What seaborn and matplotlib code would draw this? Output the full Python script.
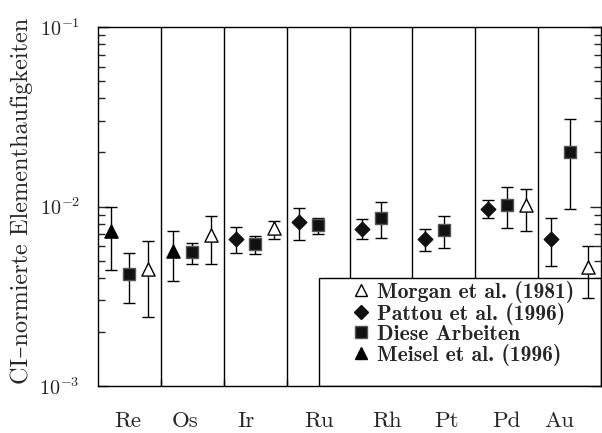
import numpy as np
import pandas as pd
import matplotlib
matplotlib.use('Agg')
import matplotlib.pyplot as plt
import seaborn as sns
from matplotlib.ticker import FixedLocator, NullFormatter, LogLocator, FuncFormatter
from matplotlib.patches import Rectangle
from matplotlib.lines import Line2D

# ---------------- data ----------------
elements = ['Re', 'Os', 'Ir', 'Ru', 'Rh', 'Pt', 'Pd', 'Au']
nan = np.nan

meisel_val = [0.0073, 0.00567, nan, nan, nan, nan, nan, nan]
meisel_lo = [0.00443, 0.00383, nan, nan, nan, nan, nan, nan]
meisel_hi = [0.0099, 0.00728, nan, nan, nan, nan, nan, nan]

pattou_val = [nan, nan, 0.00656, 0.00816, 0.00752, 0.00659, 0.00973, 0.00662]
pattou_lo = [nan, nan, 0.00548, 0.0065, 0.00659, 0.00565, 0.00867, 0.00466]
pattou_hi = [nan, nan, 0.00766, 0.00977, 0.00849, 0.00746, 0.01083, 0.00859]

diese_val = [0.00419, 0.00557, 0.00616, 0.00788, 0.00863, 0.00737, 0.01023, 0.0201]
diese_lo = [0.00289, 0.00476, 0.00542, 0.0070, 0.00665, 0.00585, 0.00759, 0.00968]
diese_hi = [0.00548, 0.0063, 0.00682, 0.00867, 0.01055, 0.00889, 0.01289, 0.0307]

morgan_val = [0.00449, 0.00697, 0.00762, nan, nan, nan, 0.01016, 0.00462]
morgan_lo = [0.00242, 0.00476, 0.00656, nan, nan, nan, 0.00728, 0.00308]
morgan_hi = [0.0064, 0.00885, 0.00826, nan, nan, nan, 0.01256, 0.00603]

labels = ['Morgan et al. (1981)', 'Pattou et al. (1996)', 'Diese Arbeiten', 'Meisel et al. (1996)']

# ---------------- style ----------------
sns.set_style('ticks')
plt.rcParams['font.family'] = ['cmr10', 'DejaVu Serif']
plt.rcParams['mathtext.fontset'] = 'cm'
plt.rcParams['axes.formatter.use_mathtext'] = True

fig = plt.figure(figsize=(6.02, 4.33), dpi=100)
ax = fig.add_axes([98 / 602, 1 - 386 / 433, 503 / 602, 359 / 433])
ax.set_yscale('log')
ax.set_xlim(0, len(elements))
ax.set_ylim(1e-3, 1e-1)

# group separators
for i in range(1, len(elements)):
    ax.axvline(i, color='black', lw=1.0, zorder=1)

# legend box
ax.add_patch(Rectangle((0.439, 0.0), 0.561, 0.301, transform=ax.transAxes,
                       facecolor='white', edgecolor='black', lw=1.0, zorder=2))

slot = 0.3
series = [
    (meisel_val, meisel_lo, meisel_hi, -1, dict(marker='^', color='black', edgecolor='black', s=90)),
    (pattou_val, pattou_lo, pattou_hi, -1, dict(marker='D', color='#111111', edgecolor='#111111', s=55)),
    (diese_val, diese_lo, diese_hi, 0, dict(marker='s', color='#111111', edgecolor='#555555', s=80)),
    (morgan_val, morgan_lo, morgan_hi, 1, dict(marker='^', color='white', edgecolor='black', s=90)),
]
for val, lo, hi, pos, st in series:
    df = pd.DataFrame({'el': elements, 'v': val, 'lo': lo, 'hi': hi})
    df['x'] = np.arange(len(elements)) + 0.5 + pos * slot
    df = df.dropna()
    ax.errorbar(df['x'], df['v'], yerr=[df['v'] - df['lo'], df['hi'] - df['v']],
                fmt='none', ecolor='black', elinewidth=1.0, capsize=4.5, capthick=1.0, zorder=3)
    sns.scatterplot(data=df, x='x', y='v', ax=ax, linewidth=1.0, zorder=4, legend=False, **st)

# ticks
label_shift = [-0.03, -0.12, -0.15, 0.02, 0.1, 0.04, -0.01, -0.17]
ax.xaxis.set_major_locator(FixedLocator([i + 0.5 + d for i, d in enumerate(label_shift)]))
ax.set_xticklabels(elements, fontsize=16.5)
ax.xaxis.set_minor_locator(FixedLocator(list(range(1, len(elements)))))
ax.tick_params(axis='x', which='major', length=0, pad=18)
ax.tick_params(axis='x', which='minor', direction='in', length=5, width=1, top=False, bottom=True)

ax.yaxis.set_major_locator(LogLocator(base=10))
ax.yaxis.set_minor_locator(LogLocator(base=10, subs=np.arange(2, 10)))
ax.yaxis.set_minor_formatter(NullFormatter())
ax.yaxis.set_major_formatter(FuncFormatter(lambda v, p: r'$10^{%d}$' % round(np.log10(v))))
ax.tick_params(axis='y', which='major', direction='in', length=8, width=1, left=True, right=True,
               labelsize=14.5, pad=13)
ax.tick_params(axis='y', which='minor', direction='in', length=5, width=1, left=True, right=True)

for sp in ax.spines.values():
    sp.set_linewidth(1.0)
    sp.set_color('black')

ax.set_xlabel('')
ax.set_ylabel('CI–normierte Elementhaufigkeiten', fontsize=17.5)
ax.yaxis.set_label_coords(-0.13, 0.515)

# legend
handles = [
    Line2D([], [], ls='none', marker='^', ms=9, mfc='white', mec='black', mew=1.0),
    Line2D([], [], ls='none', marker='D', ms=7, mfc='#111111', mec='#111111'),
    Line2D([], [], ls='none', marker='s', ms=8.5, mfc='#111111', mec='#555555', mew=1.0),
    Line2D([], [], ls='none', marker='^', ms=9, mfc='black', mec='black'),
]
leg = ax.legend(handles, labels, loc='upper left', bbox_to_anchor=(0.48, 0.324), frameon=False,
                handlelength=1.0, handletextpad=0.25, labelspacing=0.0, borderpad=0.0,
                prop={'family': ['cmb10', 'DejaVu Serif'], 'size': 15.6})
leg.set_zorder(6)

fig.savefig('out.png', dpi=100)
